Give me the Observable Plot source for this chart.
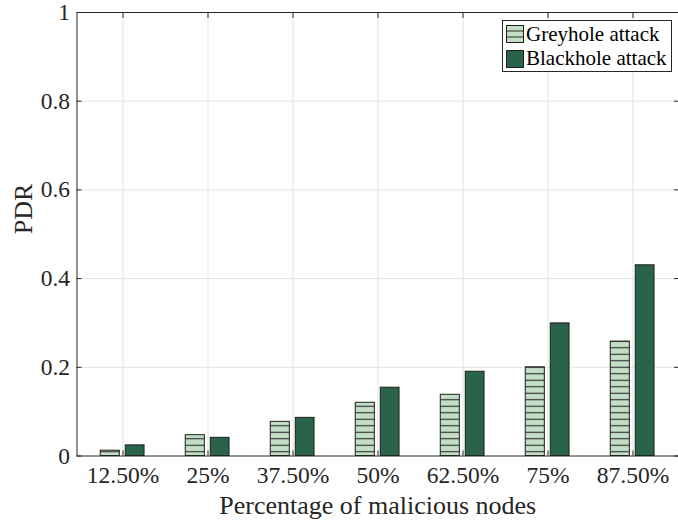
<!DOCTYPE html>
<html>
<head>
<meta charset="utf-8">
<script src="https://cdn.jsdelivr.net/npm/d3@7"></script>
<script src="https://cdn.jsdelivr.net/npm/@observablehq/plot@0.6"></script>
<style>
  html, body { margin: 0; padding: 0; background: #fff; }
  #wrap { position: relative; width: 678px; height: 524px; }
  #legend {
    position: absolute; left: 502px; top: 20px; width: 170px; height: 52px;
    box-sizing: border-box; border: 1px solid #262626; background: #fff;
    font-family: "Liberation Serif", "Times New Roman", serif; font-size: 21px; color: #000;
    padding: 1px 0 0 3px;
  }
  #legend .row { display: flex; align-items: center; height: 24.5px; }
  #legend svg { margin-right: 2px; }
</style>
</head>
<body>
<div id="wrap"></div>
<script>
const categories = ["12.50%", "25%", "37.50%", "50%", "62.50%", "75%", "87.50%"];
const greyhole = [0.012, 0.047, 0.077, 0.12, 0.138, 0.2, 0.258];
const blackhole = [0.024, 0.041, 0.086, 0.154, 0.19, 0.299, 0.43];
const yTicks = [0, 0.2, 0.4, 0.6, 0.8, 1];
const seriesNames = ["Greyhole attack", "Blackhole attack"];

const serif = "'Liberation Serif', 'Times New Roman', serif";
const lightFill = "#c3dfc6";
const darkFill = "#29644a";
const edge = "#1e1e1e";
const axisColor = "#262626";
const gridColor = "#e3e3e3";

const grey = categories.map((c, i) => ({category: c, value: greyhole[i]}));
const black = categories.map((c, i) => ({category: c, value: blackhole[i]}));

const width = 678, height = 524;
const marginLeft = 76.5, marginRight = 0, marginTop = 12, marginBottom = 68.5;
const step = (width - marginLeft - marginRight) / categories.length;

const plot = Plot.plot({
  width, height, marginLeft, marginRight, marginTop, marginBottom,
  style: {fontFamily: serif, fontSize: "23.5px", color: "#262626", background: "#fff"},
  x: {domain: categories, padding: 0, label: null},
  y: {domain: [0, 1], label: null},
  marks: [
    Plot.gridX(categories, {stroke: gridColor, strokeOpacity: 1}),
    Plot.gridY(yTicks.slice(1, -1), {stroke: gridColor, strokeOpacity: 1}),
    Plot.barY(grey, {x: "category", y: "value", fill: "url(#hatch)", stroke: edge, strokeWidth: 1,
      insetLeft: step / 2 - 22.7, insetRight: step / 2 + 2.7}),
    Plot.barY(black, {x: "category", y: "value", fill: darkFill, stroke: edge, strokeWidth: 1,
      insetLeft: step / 2 + 2.3, insetRight: step / 2 - 22}),
    Plot.axisX({anchor: "bottom", tickSize: -5, tickPadding: 15, stroke: axisColor, label: null, fontSize: "23.5px", fontFamily: serif}),
    Plot.axisX({anchor: "top", tickSize: -5, tickFormat: () => "", stroke: axisColor, label: null}),
    Plot.axisY({anchor: "left", ticks: yTicks, tickSize: -5, tickPadding: 12, tickFormat: d => String(+d.toFixed(2)), stroke: axisColor, label: null, fontSize: "23.5px", fontFamily: serif}),
    Plot.axisY({anchor: "right", ticks: yTicks, tickSize: -5, tickFormat: () => "", stroke: axisColor, label: null}),
    Plot.frame({stroke: axisColor, strokeWidth: 1}),
    Plot.text(["Percentage of malicious nodes"], {frameAnchor: "bottom", dy: 58, fontSize: 26, fontFamily: serif, fill: "#262626", lineAnchor: "bottom"}),
    Plot.text(["PDR"], {frameAnchor: "left", dx: -53, rotate: -90, fontSize: 26, fontFamily: serif, fill: "#262626"})
  ]
});

// hatch pattern for greyhole bars
const ns = "http://www.w3.org/2000/svg";
const defs = document.createElementNS(ns, "defs");
defs.innerHTML = `
  <pattern id="hatch" patternUnits="userSpaceOnUse" width="8" height="6.5">
    <rect width="8" height="6.5" fill="${lightFill}"></rect>
    <line x1="0" x2="8" y1="3.25" y2="3.25" stroke="#2a2a2a" stroke-width="1.1"></line>
  </pattern>`;
plot.insertBefore(defs, plot.firstChild);

const wrap = document.getElementById("wrap");
wrap.appendChild(plot);

// legend
const legend = document.createElement("div");
legend.id = "legend";
const swatches = [
  `<svg width="18" height="18"><rect x="0.5" y="0.5" width="17" height="17" fill="${lightFill}" stroke="${edge}"/>
   <line x1="1" x2="17" y1="6" y2="6" stroke="#2a2a2a"/><line x1="1" x2="17" y1="12" y2="12" stroke="#2a2a2a"/></svg>`,
  `<svg width="18" height="18"><rect x="0.5" y="0.5" width="17" height="17" fill="${darkFill}" stroke="${edge}"/></svg>`
];
seriesNames.forEach((name, i) => {
  const row = document.createElement("div");
  row.className = "row";
  row.innerHTML = swatches[i] + `<span>${name}</span>`;
  legend.appendChild(row);
});
wrap.appendChild(legend);
</script>
</body>
</html>
